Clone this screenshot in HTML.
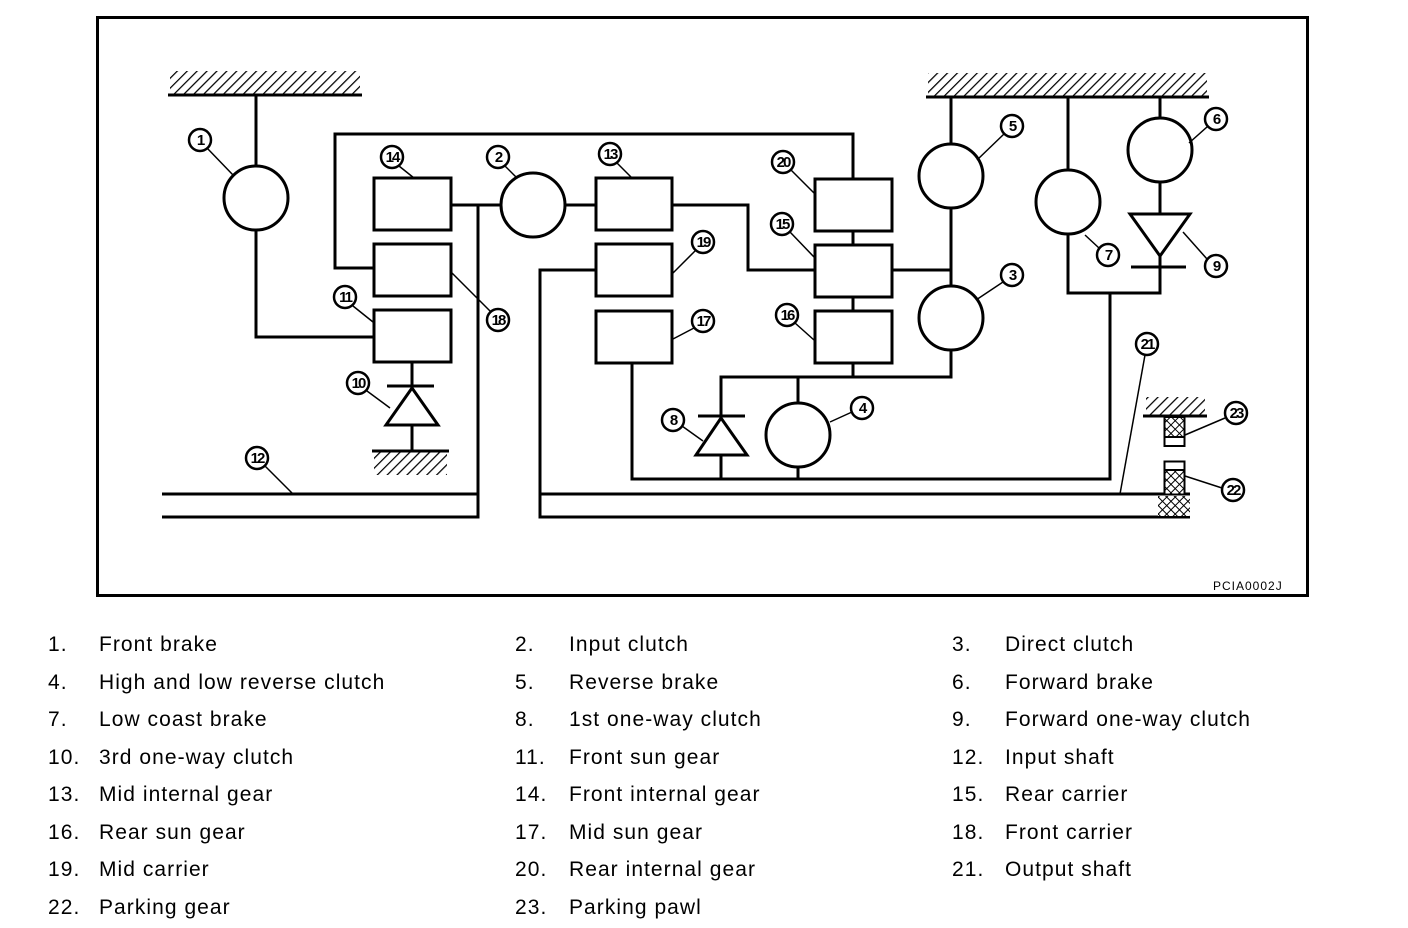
<!DOCTYPE html>
<html><head><meta charset="utf-8"><style>
body{margin:0;background:#fff;width:1408px;height:928px;overflow:hidden}
svg{display:block}
</style></head><body>
<svg width="1408" height="928" xmlns="http://www.w3.org/2000/svg" font-family="Liberation Sans, sans-serif">
<defs>
<pattern id="h" width="7" height="7" patternUnits="userSpaceOnUse" patternTransform="rotate(45)"><rect width="7" height="7" fill="#fff"/><line x1="0" y1="0" x2="0" y2="7" stroke="#000" stroke-width="2.5"/></pattern>
<pattern id="x" width="6" height="6" patternUnits="userSpaceOnUse" patternTransform="rotate(45)"><rect width="6" height="6" fill="#fff"/><line x1="0" y1="0" x2="0" y2="6" stroke="#000" stroke-width="2"/><line x1="0" y1="0" x2="6" y2="0" stroke="#000" stroke-width="2"/></pattern>
</defs>
<rect x="97.5" y="17.5" width="1210" height="578" fill="none" stroke="#000" stroke-width="3"/>
<g fill="none" stroke="#000" stroke-width="3">
<rect x="170" y="71" width="190" height="23" fill="url(#h)" stroke="none"/>
<line x1="168" y1="95" x2="362" y2="95"/>
<rect x="928" y="73" width="279" height="23" fill="url(#h)" stroke="none"/>
<line x1="926" y1="97" x2="1209" y2="97"/>
<rect x="374" y="452" width="73" height="23" fill="url(#h)" stroke="none"/>
<line x1="372" y1="451" x2="449" y2="451"/>
<rect x="1146" y="397" width="59" height="18" fill="url(#h)" stroke="none"/>
<line x1="1143" y1="416" x2="1207" y2="416"/>
<line x1="256" y1="95" x2="256" y2="166"/>
<circle cx="256" cy="198" r="32"/>
<polyline points="256,230 256,337 374,337"/>
<rect x="374" y="178" width="77" height="52"/>
<rect x="374" y="244" width="77" height="52"/>
<rect x="374" y="310" width="77" height="52"/>
<polyline points="374,268 335,268 335,134 853,134 853,179"/>
<line x1="451" y1="205" x2="501" y2="205"/>
<circle cx="533" cy="205" r="32"/>
<polyline points="478,205 478,517 162,517"/>
<line x1="162" y1="494" x2="478" y2="494"/>
<line x1="412" y1="362" x2="412" y2="386"/>
<line x1="387" y1="386" x2="434" y2="386"/>
<polygon points="412,388 386,425 438,425"/>
<line x1="412" y1="425" x2="412" y2="451"/>
<line x1="565" y1="205" x2="596" y2="205"/>
<rect x="596" y="178" width="76" height="52"/>
<rect x="596" y="244" width="76" height="52"/>
<rect x="596" y="311" width="76" height="52"/>
<polyline points="672,205 748,205 748,270 815,270"/>
<polyline points="596,270 540,270 540,517 1190,517"/>
<line x1="540" y1="494" x2="1190" y2="494"/>
<polyline points="632,363 632,479 1110,479 1110,293"/>
<rect x="815" y="179" width="77" height="52"/>
<rect x="815" y="245" width="77" height="52"/>
<rect x="815" y="311" width="77" height="52"/>
<line x1="853" y1="231" x2="853" y2="245"/>
<line x1="853" y1="297" x2="853" y2="311"/>
<line x1="853" y1="363" x2="853" y2="377"/>
<line x1="892" y1="270" x2="951" y2="270"/>
<line x1="951" y1="97" x2="951" y2="144"/>
<circle cx="951" cy="176" r="32"/>
<line x1="951" y1="208" x2="951" y2="286"/>
<circle cx="951" cy="318" r="32"/>
<polyline points="951,350 951,377 721,377 721,416"/>
<line x1="798" y1="377" x2="798" y2="403"/>
<circle cx="798" cy="435" r="32"/>
<line x1="798" y1="467" x2="798" y2="479"/>
<line x1="698" y1="416" x2="745" y2="416"/>
<polygon points="721,418 696,455 747,455"/>
<line x1="721" y1="455" x2="721" y2="479"/>
<line x1="1068" y1="97" x2="1068" y2="170"/>
<circle cx="1068" cy="202" r="32"/>
<polyline points="1068,234 1068,293 1160,293 1160,256"/>
<line x1="1160" y1="97" x2="1160" y2="118"/>
<circle cx="1160" cy="150" r="32"/>
<line x1="1160" y1="182" x2="1160" y2="214"/>
<polygon points="1130,214 1190,214 1160,256"/>
<line x1="1131" y1="267" x2="1186" y2="267"/>
</g>
<rect x="1164" y="417" width="21" height="20" fill="url(#x)"/>
<rect x="1164.5" y="417" width="20" height="29" fill="none" stroke="#000" stroke-width="2"/>
<line x1="1164" y1="437" x2="1185" y2="437" stroke="#000" stroke-width="2"/>
<rect x="1164" y="470" width="21" height="24" fill="url(#x)"/>
<rect x="1164.5" y="461.5" width="20" height="33" fill="none" stroke="#000" stroke-width="2"/>
<line x1="1164" y1="470" x2="1185" y2="470" stroke="#000" stroke-width="2"/>
<rect x="1158" y="496" width="32" height="20" fill="url(#x)"/>
<g stroke="#000" stroke-width="1.5">
<line x1="207" y1="148" x2="233" y2="175"/>
<line x1="399" y1="166" x2="414" y2="178"/>
<line x1="505" y1="166" x2="517" y2="178"/>
<line x1="617" y1="163" x2="632" y2="178"/>
<line x1="791" y1="170" x2="814" y2="193"/>
<line x1="790" y1="232" x2="814" y2="257"/>
<line x1="795" y1="323" x2="814" y2="340"/>
<line x1="695" y1="251" x2="673" y2="273"/>
<line x1="694" y1="328" x2="673" y2="339"/>
<line x1="490" y1="311" x2="452" y2="273"/>
<line x1="353" y1="306" x2="373" y2="322"/>
<line x1="367" y1="391" x2="390" y2="408"/>
<line x1="265" y1="466" x2="292" y2="493"/>
<line x1="1004" y1="134" x2="977" y2="160"/>
<line x1="1003" y1="282" x2="976" y2="300"/>
<line x1="852" y1="412" x2="830" y2="422"/>
<line x1="682" y1="426" x2="703" y2="441"/>
<line x1="1207" y1="127" x2="1189" y2="143"/>
<line x1="1099" y1="248" x2="1085" y2="235"/>
<line x1="1207" y1="259" x2="1183" y2="232"/>
<line x1="1145" y1="355" x2="1120" y2="494"/>
<line x1="1225" y1="418" x2="1185" y2="435"/>
<line x1="1222" y1="488" x2="1185" y2="476"/>
</g>
<g fill="#fff" stroke="#000" stroke-width="2.5">
<circle cx="200" cy="140" r="11"/><circle cx="392" cy="157" r="11"/><circle cx="498" cy="157" r="11"/>
<circle cx="610" cy="154" r="11"/><circle cx="783" cy="162" r="11"/><circle cx="782" cy="224" r="11"/>
<circle cx="787" cy="315" r="11"/><circle cx="703" cy="242" r="11"/><circle cx="703" cy="321" r="11"/>
<circle cx="498" cy="320" r="11"/><circle cx="345" cy="297" r="11"/><circle cx="358" cy="383" r="11"/>
<circle cx="257" cy="458" r="11"/><circle cx="1012" cy="126" r="11"/><circle cx="1012" cy="275" r="11"/>
<circle cx="862" cy="408" r="11"/><circle cx="673" cy="420" r="11"/><circle cx="1216" cy="119" r="11"/>
<circle cx="1108" cy="255" r="11"/><circle cx="1216" cy="266" r="11"/><circle cx="1147" cy="344" r="11"/>
<circle cx="1236" cy="413" r="11"/><circle cx="1233" cy="490" r="11"/>
</g>
<g font-size="15" font-weight="bold" text-anchor="middle" letter-spacing="-2">
<text x="200" y="145">1</text><text x="392" y="162">14</text><text x="498" y="162">2</text>
<text x="610" y="159">13</text><text x="783" y="167">20</text><text x="782" y="229">15</text>
<text x="787" y="320">16</text><text x="703" y="247">19</text><text x="703" y="326">17</text>
<text x="498" y="325">18</text><text x="345" y="302">11</text><text x="358" y="388">10</text>
<text x="257" y="463">12</text><text x="1012" y="131">5</text><text x="1012" y="280">3</text>
<text x="862" y="413">4</text><text x="673" y="425">8</text><text x="1216" y="124">6</text>
<text x="1108" y="260">7</text><text x="1216" y="271">9</text><text x="1147" y="349">21</text>
<text x="1236" y="418">23</text><text x="1233" y="495">22</text>
</g>
<text x="1213" y="590" font-size="12" letter-spacing="1">PCIA0002J</text>
<g font-size="21" letter-spacing="1.05">
<text x="48" y="651">1.</text><text x="99" y="651">Front brake</text>
<text x="515" y="651">2.</text><text x="569" y="651">Input clutch</text>
<text x="952" y="651">3.</text><text x="1005" y="651">Direct clutch</text>
<text x="48" y="689">4.</text><text x="99" y="689">High and low reverse clutch</text>
<text x="515" y="689">5.</text><text x="569" y="689">Reverse brake</text>
<text x="952" y="689">6.</text><text x="1005" y="689">Forward brake</text>
<text x="48" y="726">7.</text><text x="99" y="726">Low coast brake</text>
<text x="515" y="726">8.</text><text x="569" y="726">1st one-way clutch</text>
<text x="952" y="726">9.</text><text x="1005" y="726">Forward one-way clutch</text>
<text x="48" y="764">10.</text><text x="99" y="764">3rd one-way clutch</text>
<text x="515" y="764">11.</text><text x="569" y="764">Front sun gear</text>
<text x="952" y="764">12.</text><text x="1005" y="764">Input shaft</text>
<text x="48" y="801">13.</text><text x="99" y="801">Mid internal gear</text>
<text x="515" y="801">14.</text><text x="569" y="801">Front internal gear</text>
<text x="952" y="801">15.</text><text x="1005" y="801">Rear carrier</text>
<text x="48" y="839">16.</text><text x="99" y="839">Rear sun gear</text>
<text x="515" y="839">17.</text><text x="569" y="839">Mid sun gear</text>
<text x="952" y="839">18.</text><text x="1005" y="839">Front carrier</text>
<text x="48" y="876">19.</text><text x="99" y="876">Mid carrier</text>
<text x="515" y="876">20.</text><text x="569" y="876">Rear internal gear</text>
<text x="952" y="876">21.</text><text x="1005" y="876">Output shaft</text>
<text x="48" y="914">22.</text><text x="99" y="914">Parking gear</text>
<text x="515" y="914">23.</text><text x="569" y="914">Parking pawl</text>
</g>
</svg>
</body></html>
